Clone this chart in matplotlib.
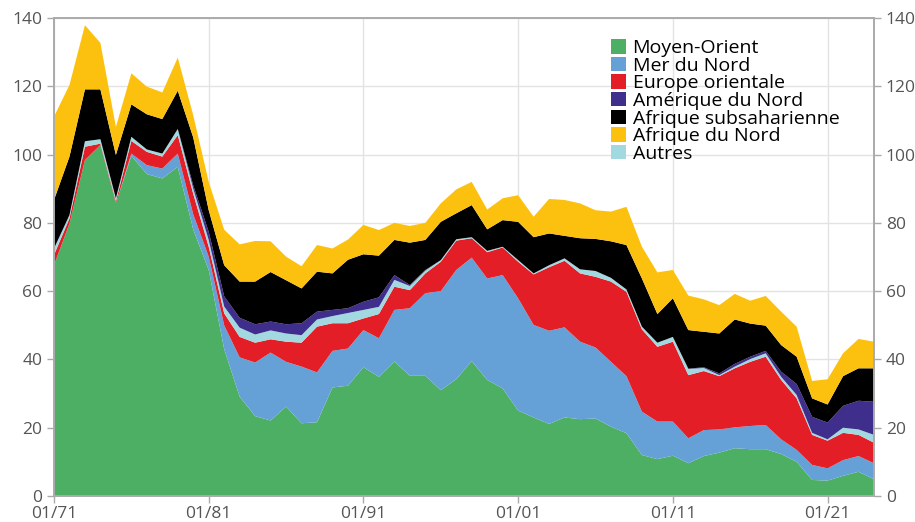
import numpy as np
import matplotlib
matplotlib.use("Agg")
import matplotlib.pyplot as plt
from matplotlib.patches import Patch

plt.rcParams['font.family'] = ['Open Sans', 'DejaVu Sans']

# Données (Mt/an), empilées dans l'ordre du graphique
years = list(range(1971, 2025))
tick_years = [1971, 1981, 1991, 2001, 2011, 2021]
tick_labels = ["01/71", "01/81", "01/91", "01/01", "01/11", "01/21"]

moyen_orient = [67.6, 79.8, 98.4, 102.8, 85.7, 99.6, 94.3, 93.0, 96.4, 78.0,
                66.2, 43.0, 29.1, 23.4, 22.1, 26.2, 21.3, 21.6, 31.8, 32.3,
                37.7, 34.9, 39.4, 35.2, 35.2, 31.0, 34.2, 39.5, 34.0, 31.5,
                25.0, 23.0, 21.1, 23.0, 22.5, 22.7, 20.3, 18.4, 12.0, 10.8,
                11.8, 9.6, 11.7, 12.7, 14.0, 13.7, 13.7, 12.3, 10.0, 4.7,
                4.5, 5.9, 7.1, 4.9]
mer_du_nord = [0, 0, 0, 0, 0, 0.7, 2.6, 2.9, 3.9, 4.5,
               3.9, 7.0, 11.5, 15.7, 19.9, 13.1, 16.6, 14.6, 10.7, 10.9,
               10.9, 11.3, 15.1, 19.8, 24.2, 29.0, 32.0, 30.3, 29.7, 33.2,
               32.9, 27.1, 27.3, 26.4, 22.7, 20.8, 19.0, 16.7, 12.7, 11.0,
               10.0, 7.3, 7.6, 6.8, 6.1, 6.8, 7.1, 4.3, 3.5, 4.4,
               3.6, 4.6, 4.6, 4.7]
europe_orientale = [3.0, 1.5, 3.9, 0.4, 0.6, 3.7, 3.9, 3.5, 5.4, 6.0,
                    2.9, 3.5, 6.0, 5.8, 3.9, 5.9, 7.0, 13.4, 8.1, 7.4,
                    3.4, 7.1, 6.8, 5.3, 5.8, 8.6, 8.6, 5.7, 7.7, 8.1,
                    10.7, 14.8, 18.6, 19.5, 20.0, 20.7, 23.5, 24.7, 24.1, 21.9,
                    23.4, 18.5, 17.3, 15.6, 17.3, 18.8, 20.0, 17.4, 15.1, 8.8,
                    8.1, 8.0, 6.2, 6.0]
autres = [1.9, 1.0, 1.6, 1.3, 0.9, 1.2, 0.7, 0.9, 1.8, 1.5,
          2.0, 2.0, 2.7, 2.4, 2.6, 2.4, 2.2, 2.1, 2.1, 3.0,
          2.5, 2.1, 2.0, 1.2, 0.8, 0.5, 0.4, 0.3, 0.4, 0.2,
          0.5, 0.3, 0.6, 0.7, 1.2, 1.7, 1.1, 0.7, 0.8, 1.2,
          1.4, 1.8, 0.9, 0.3, 0.5, 0.8, 1.0, 0.9, 1.0, 0.6,
          0.4, 1.5, 1.6, 2.3]
amerique_du_nord = [0, 0, 0, 0, 0, 0, 0, 0, 0, 1.0,
                    2.4, 3.0, 2.9, 3.0, 2.6, 2.7, 3.5, 2.3, 1.8, 1.4,
                    2.4, 2.8, 1.4, 0.3, 0.2, 0, 0, 0, 0, 0,
                    0, 0, 0, 0, 0, 0, 0, 0, 0, 0,
                    0, 0.1, 0.2, 0.5, 0.8, 0.7, 0.7, 1.5, 3.2, 4.7,
                    4.9, 6.4, 8.4, 9.7]
afrique_subsaharienne = [14.2, 17.1, 15.2, 14.6, 12.7, 9.5, 10.3, 10.1, 11.2, 14.0,
                         6.3, 9.1, 10.6, 12.5, 14.5, 12.9, 10.2, 11.7, 10.7, 14.2,
                         13.9, 12.2, 10.3, 12.4, 8.8, 11.2, 7.6, 9.4, 6.3, 7.8,
                         11.2, 10.6, 9.3, 6.6, 9.1, 9.4, 10.7, 13.0, 14.1, 8.4,
                         11.3, 11.3, 10.4, 11.7, 13.0, 9.7, 7.4, 7.8, 8.0, 5.4,
                         5.3, 8.7, 9.5, 9.8]
afrique_du_nord = [24.4, 21.0, 18.8, 13.6, 8.2, 9.1, 8.1, 7.8, 9.7, 6.5,
                   8.3, 10.4, 10.9, 11.9, 9.0, 6.9, 6.5, 7.8, 7.3, 5.9,
                   8.6, 7.5, 5.0, 4.9, 5.0, 5.4, 7.0, 6.8, 5.8, 6.4,
                   7.8, 6.0, 10.1, 10.5, 10.2, 8.4, 8.7, 11.2, 9.3, 12.2,
                   8.3, 10.1, 9.5, 8.3, 7.5, 6.7, 8.7, 9.8, 8.8, 5.1,
                   7.4, 6.7, 8.6, 7.8]

# ordre d'empilement (bas -> haut)
series = [moyen_orient, mer_du_nord, europe_orientale, autres,
          amerique_du_nord, afrique_subsaharienne, afrique_du_nord]
colors = ["#4CAF64", "#65A1D7", "#E31E26", "#A2D9E0",
          "#3F2E8C", "#000000", "#FCC10F"]

# ordre de la légende
legend_names = ["Moyen-Orient", "Mer du Nord", "Europe orientale",
                "Amérique du Nord", "Afrique subsaharienne", "Afrique du Nord", "Autres"]
legend_colors = ["#4CAF64", "#65A1D7", "#E31E26", "#3F2E8C",
                 "#000000", "#FCC10F", "#A2D9E0"]

fig = plt.figure(figsize=(9.15, 5.22), dpi=100)
ax = fig.add_axes([54/915, 1 - 496/522, 820/915, 478/522])

ax.stackplot(years, *series, colors=colors, linewidth=0, zorder=2)

ax.set_xlim(1971, 2024)
ax.set_ylim(0, 140)
ax.set_yticks(range(0, 141, 20))
ax.set_xticks(tick_years)
ax.set_xticklabels(tick_labels)
ax.grid(True, color="#E3E3E3", linewidth=1, zorder=0)
ax.set_axisbelow(True)

grey = "#AAAAAA"
for s in ax.spines.values():
    s.set_color(grey)
    s.set_linewidth(1.2)
ax.tick_params(axis="both", colors=grey, labelcolor="#555555", labelsize=12.5,
               length=5, width=1)
ax.tick_params(axis="x", pad=2.5)

ax2 = ax.twinx()
ax2.set_ylim(0, 140)
ax2.set_yticks(range(0, 141, 20))
ax2.tick_params(axis="y", colors=grey, labelcolor="#555555", labelsize=12.5,
                length=5, width=1)
for s in ax2.spines.values():
    s.set_color(grey)
    s.set_linewidth(1.2)

handles = [Patch(facecolor=c, edgecolor="none") for c in legend_colors]
ax.legend(handles, legend_names, loc="upper left", bbox_to_anchor=(0.67, 0.972),
          frameon=False, fontsize=14, handlelength=0.75, handleheight=0.75,
          handletextpad=0.35, labelspacing=-0.02, borderaxespad=0)

fig.savefig("out.png", dpi=100)
